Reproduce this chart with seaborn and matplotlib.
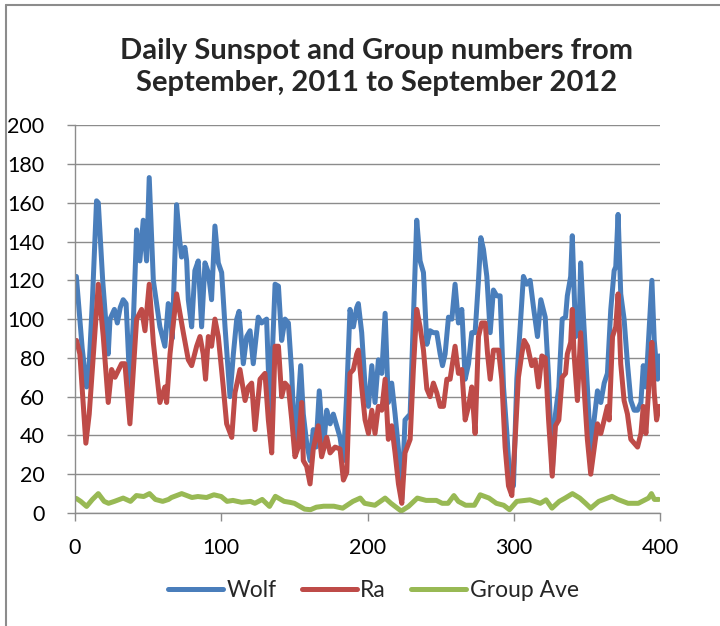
import pandas as pd
import matplotlib.pyplot as plt
import seaborn as sns
from matplotlib.lines import Line2D

# Data (day index, value)
wolf_day = [1, 2.3, 5, 8, 9.1, 12, 14.8, 16, 19, 22.8, 24, 27, 29, 31, 33, 35, 37.6, 40, 42.2, 44.4,
            46.7, 49, 50.8, 53.6, 58.1, 61.5, 63.8, 65, 66.5, 69.5, 71.6, 72.9, 75.2, 76.4, 77.5, 79.8,
            82, 84.3, 86.6, 88.9, 91.2, 93.4, 95.7, 98, 100.3, 102.6, 106, 108.3, 110.6, 112.2, 115.1,
            117.4, 119.7, 121.9, 125.3, 127.6, 131, 133.3, 136.8, 139.1, 141.3, 143.6, 145.9, 148.2,
            150.4, 152.7, 154.3, 156.1, 158.4, 160.7, 162.9, 164.8, 167, 169.8, 172.1, 174.4, 176.6,
            178.9, 181.2, 183.5, 185.8, 188, 190.3, 192.6, 193.7, 196, 198.3, 200.6, 202.9, 205.1,
            207.4, 209.7, 212, 214.2, 216.5, 218.8, 221.1, 223.4, 225.6, 229.1, 231.3, 233.6, 235.9,
            238.2, 240.5, 242.7, 245, 247.3, 249.6, 251.2, 253, 255.3, 257.6, 259.8, 262.1, 264.4,
            266.7, 269, 271.2, 273.5, 275.8, 277.4, 279.2, 281.5, 283.8, 286, 288.3, 290.6, 292.9,
            295.2, 297.4, 299.7, 302, 304.3, 306.5, 308.8, 311.1, 313.4, 316.1, 318.4, 321.4, 323.7,
            326.2, 328.4, 330.7, 333, 335.3, 336.5, 338.8, 339.9, 342.2, 344.5, 345.6, 347.9, 350.2,
            352.5, 354.8, 357.1, 359.4, 361.7, 363.9, 366.2, 368.5, 369.6, 371.2, 373, 375.3, 377.6,
            379.9, 382.2, 384.5, 386.8, 388.4, 390.2, 392.5, 394.3, 395.9, 398.2, 399.3]
wolf = [122, 110, 85, 65, 66, 110, 161, 160, 120, 82, 100, 105, 98, 106, 110, 108, 65, 100, 146, 130,
        151, 130, 173, 120, 96, 86, 108, 106, 90, 159, 141, 132, 137, 130, 110, 96,
        125, 130, 96, 129, 124, 110, 148, 129, 124, 96, 60, 82, 100, 104, 77,
        91, 94, 77, 101, 98, 100, 51, 118, 117, 89, 100, 98, 72,
        31, 58, 76, 51, 36, 27, 43, 34, 63, 33, 53, 46, 51,
        45, 39, 27, 62, 105, 96, 106, 108, 93, 65, 55, 76, 57,
        79, 72, 103, 57, 67, 51, 33, 7, 48, 51, 100, 151, 130,
        124, 87, 94, 93, 93, 82, 76, 82, 101, 100, 118, 98, 105,
        69, 77, 93, 93, 120, 142, 136, 122, 93, 115, 112, 112, 65,
        41, 15, 14, 69, 96, 122, 118, 120, 106, 91, 110, 101, 70,
        21, 51, 65, 100, 101, 112, 122, 143, 91, 93, 129, 96, 65,
        31, 48, 63, 57, 67, 72, 105, 125, 127, 154, 113, 100, 77,
        58, 53, 53, 57, 76, 65, 96, 120, 89, 69, 81]

ra_day = [1.1, 3.4, 7.5, 9.8, 16, 19.4, 22.8, 25.1, 27.4, 31.9, 34.2, 37.6, 42.2, 45.6, 47.9, 50.8,
          53.6, 58.1, 61.5, 62.7, 65, 69.5, 71.8, 74.1, 77.5, 79.8, 83.2, 85.5, 87.7, 89.3, 91.2,
          93.4, 95.7, 98, 101.4, 103.7, 107.2, 109.4, 112.8, 116.3, 118.5, 120.8, 123.1, 126.5,
          129.9, 132.2, 134.5, 136.8, 139.1, 141.3, 143.6, 145.9, 148.2, 150.4, 152.7, 155, 156.1,
          158.4, 160.7, 162.9, 166.3, 168.6, 172.1, 174.4, 177.8, 181.2, 183.5, 185.8, 188, 190.3,
          192.6, 193.7, 196, 198.3, 200.6, 202.9, 205.1, 207.4, 209.7, 212, 214.2, 216.5, 218.8,
          221.1, 223.4, 225.6, 229.1, 231.3, 233.6, 235.9, 238.2, 240.5, 242.7, 245, 247.3, 249.6,
          251.9, 254.2, 256.4, 259.8, 262.1, 264.4, 266.7, 269, 271.2, 273.5, 275.8, 278, 280.4,
          282, 283.8, 286, 289.5, 291.7, 294, 296.3, 298.6, 300.9, 303.1, 305.4, 307, 309.3, 312.2,
          314.5, 316.8, 319.1, 321.4, 323.7, 326.2, 328.4, 330.7, 333, 335.3, 336.5, 338.8, 339.9,
          341.1, 343.4, 345.6, 347.9, 350.2, 352.5, 354.8, 357.1, 359.4, 361.7, 363.9, 365.1, 367.4,
          369.6, 371.2, 373, 375.3, 377.6, 379.9, 382.2, 384.5, 386.8, 388.4, 390.2, 392.5, 394.3,
          395.9, 397.5, 399.3]
ra = [89, 82, 36, 51, 118, 91, 57, 74, 70, 77, 77, 46, 100, 105, 94, 118,
      88, 57, 65, 57, 82, 113, 103, 93, 79, 76, 86, 91, 82, 69, 91,
      86, 100, 91, 65, 46, 39, 62, 74, 58, 65, 67, 43, 69,
      72, 48, 31, 86, 86, 60, 67, 65, 48, 29, 34, 57, 27,
      24, 15, 33, 45, 29, 39, 31, 34, 33, 17, 21, 72, 74,
      82, 84, 65, 48, 41, 53, 41, 55, 53, 69, 38, 45, 31,
      15, 5, 31, 38, 74, 105, 96, 84, 64, 60, 67, 62, 55,
      55, 69, 69, 86, 72, 74, 48, 55, 65, 41, 91, 98, 98,
      82, 69, 84, 84, 69, 34, 14, 9, 39, 70, 82, 89, 86, 76,
      79, 65, 81, 80, 48, 19, 45, 48, 70, 72, 82, 88, 105,
      82, 58, 93, 65, 38, 20, 33, 46, 41, 48, 55, 48, 91,
      96, 113, 77, 58, 51, 38, 36, 34, 41, 55, 41, 69, 88,
      62, 48, 55]

group_day = [1, 4, 8, 12, 16, 20, 23, 27, 33, 38, 42, 47, 51, 55, 60, 64, 66, 73, 80, 84, 90, 95,
             100, 104, 108, 114, 120, 123, 128, 133, 137, 143, 147, 150, 157, 161, 165, 170, 177,
             183, 190, 195, 198, 205, 212, 216, 223, 228, 234, 240, 247, 251, 255, 259, 262, 267,
             273, 277, 283, 288, 293, 297, 302, 311, 318, 322, 326, 331, 335, 340, 345, 349, 352.5,
             358, 367, 371, 378, 385, 392, 394, 396, 399]
group = [7.5, 6, 3.4, 7, 10, 6, 5, 6, 7.7, 6, 9, 8.5, 10, 7, 6, 7, 8, 10, 8, 8.5, 8, 9.4,
         8.5, 6, 6.5, 5.5, 6, 5, 7, 3.4, 8.6, 6, 5.5, 5, 2, 1.7, 3, 3.5, 3.5,
         2.5, 6, 7.7, 5, 4, 7.7, 5, 1, 3.4, 7.7, 6.5, 6.5, 5, 5, 9, 6, 4,
         4, 9.4, 7.7, 5, 4, 1.7, 6, 6.8, 5, 6.8, 2.5, 6, 7.7, 10, 7.7, 5, 2.5,
         6, 8.6, 7, 5, 5, 7.7, 10, 7, 7]

df = pd.concat([
    pd.DataFrame({'day': wolf_day, 'value': wolf, 'series': 'Wolf'}),
    pd.DataFrame({'day': ra_day, 'value': ra, 'series': 'Ra'}),
    pd.DataFrame({'day': group_day, 'value': group, 'series': 'Group Ave'}),
])

colors = {'Wolf': '#4A7EBB', 'Ra': '#BE4B48', 'Group Ave': '#98B954'}

sns.set_theme(style='white')
plt.rcParams['font.family'] = ['Lato', 'DejaVu Sans']

fig = plt.figure(figsize=(7.2, 6.26), dpi=100)
ax = fig.add_axes([0.104, 0.1805, 0.813, 0.6195])

sns.lineplot(data=df, x='day', y='value', hue='series', palette=colors, estimator=None,
             linewidth=3.6, ax=ax, legend=False)

ax.set_xlim(0, 400)
ax.set_ylim(0, 200)
ax.set_xticks(range(0, 401, 100))
ax.set_yticks(range(0, 201, 20))
ax.set_xlabel('')
ax.set_ylabel('')
ax.yaxis.grid(True, color='#8c8c8c', linewidth=1)
ax.xaxis.grid(False)
for side in ['top', 'right']:
    ax.spines[side].set_visible(False)
for side in ['left', 'bottom']:
    ax.spines[side].set_color('#8c8c8c')
    ax.spines[side].set_linewidth(1)
ax.tick_params(axis='both', direction='out', length=6, width=1, color='#8c8c8c',
               labelsize=15.5, labelcolor='black', bottom=True, left=True)
ax.tick_params(axis='y', pad=16)
ax.tick_params(axis='x', pad=12)

# title
fig.text(377 / 720, 1 - 67 / 626,
         'Daily Sunspot and Group numbers from\nSeptember, 2011 to September 2012',
         ha='center', va='center', fontsize=21, fontweight='bold', linespacing=1.3)

handles = [Line2D([0], [0], color=colors[s], linewidth=3.6) for s in ['Wolf', 'Ra', 'Group Ave']]
ax.legend(handles, ['Wolf', 'Ra', 'Group Ave'], loc='center', bbox_to_anchor=(0.51, -0.2),
          ncol=3, frameon=False, fontsize=16.5, handlelength=2.4, handletextpad=0.15,
          columnspacing=1.1)

# chart frame (left and top edges visible)
fig.add_artist(Line2D([6 / 720, 6 / 720], [0, 1 - 5 / 626], transform=fig.transFigure,
                      color='#8c8c8c', linewidth=1.5))
fig.add_artist(Line2D([6 / 720, 1], [1 - 5 / 626, 1 - 5 / 626], transform=fig.transFigure,
                      color='#8c8c8c', linewidth=1.5))

fig.savefig('out.png', dpi=100)
